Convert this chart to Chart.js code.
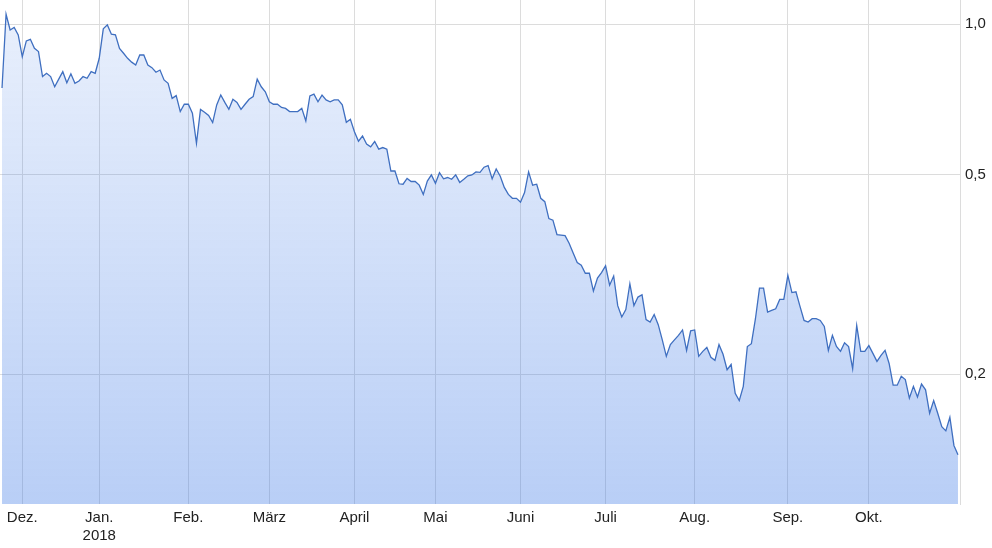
<!DOCTYPE html>
<html>
<head>
<meta charset="utf-8">
<script src="https://cdn.jsdelivr.net/npm/chart.js@4.4.1/dist/chart.umd.min.js"></script>
<style>
  html, body { margin: 0; padding: 0; background: #fff; }
  canvas { display: block; }
</style>
</head>
<body>
<canvas id="kurs" width="992" height="548"></canvas>
<script>
// daily closing prices, late Nov 2017 - end of Oct 2018 (one value per trading day)
const prices = [
  0.746, 1.047, 0.974, 0.985, 0.952, 0.861, 0.926, 0.933, 0.895, 0.882,
  0.786, 0.798, 0.786, 0.750, 0.777, 0.804, 0.764, 0.796, 0.762, 0.770,
  0.786, 0.780, 0.804, 0.798, 0.855, 0.979, 0.997, 0.955, 0.952, 0.895,
  0.875, 0.855, 0.840, 0.829, 0.868, 0.868, 0.829, 0.819, 0.802, 0.810,
  0.774, 0.762, 0.711, 0.720, 0.669, 0.692, 0.692, 0.664, 0.578, 0.676,
  0.667, 0.657, 0.636, 0.690, 0.722, 0.698, 0.676, 0.708, 0.698, 0.676,
  0.692, 0.708, 0.717, 0.777, 0.750, 0.733, 0.700, 0.692, 0.692, 0.682,
  0.679, 0.669, 0.669, 0.669, 0.679, 0.641, 0.719, 0.725, 0.700, 0.722,
  0.706, 0.700, 0.706, 0.706, 0.690, 0.637, 0.646, 0.610, 0.584, 0.598,
  0.576, 0.569, 0.583, 0.563, 0.567, 0.563, 0.509, 0.509, 0.480, 0.479,
  0.492, 0.485, 0.485, 0.477, 0.457, 0.486, 0.500, 0.481, 0.505, 0.491,
  0.494, 0.490, 0.500, 0.483, 0.490, 0.498, 0.500, 0.507, 0.506, 0.518,
  0.522, 0.491, 0.514, 0.497, 0.472, 0.457, 0.449, 0.449, 0.441, 0.461,
  0.507, 0.477, 0.479, 0.449, 0.442, 0.409, 0.406, 0.380, 0.379, 0.378,
  0.365, 0.349, 0.334, 0.330, 0.318, 0.318, 0.293, 0.311, 0.319, 0.329,
  0.301, 0.314, 0.274, 0.260, 0.269, 0.303, 0.274, 0.285, 0.288, 0.257,
  0.254, 0.263, 0.251, 0.234, 0.217, 0.229, 0.234, 0.239, 0.245, 0.223,
  0.244, 0.245, 0.217, 0.222, 0.226, 0.216, 0.213, 0.229, 0.219, 0.204,
  0.209, 0.183, 0.177, 0.189, 0.227, 0.230, 0.258, 0.297, 0.297, 0.266,
  0.268, 0.270, 0.282, 0.282, 0.315, 0.291, 0.292, 0.273, 0.256, 0.254,
  0.258, 0.258, 0.256, 0.249, 0.223, 0.239, 0.227, 0.222, 0.231, 0.227,
  0.205, 0.250, 0.222, 0.222, 0.228, 0.220, 0.212, 0.218, 0.223, 0.210,
  0.190, 0.190, 0.198, 0.195, 0.179, 0.189, 0.180, 0.191, 0.186, 0.167,
  0.177, 0.167, 0.157, 0.154, 0.164, 0.144, 0.138
];

// first trading day of each month (index into prices) and its label
const monthIdx = [5, 24, 46, 66, 87, 107, 128, 149, 171, 194, 214];
const monthLabels = ['Dez.', ['Jan.', '2018'], 'Feb.', 'März', 'April', 'Mai', 'Juni', 'Juli', 'Aug.', 'Sep.', 'Okt.'];

const yTicks = [0.2, 0.5, 1.0];

const points = prices.map((v, i) => ({ x: i, y: v }));

function areaFill(context) {
    const chart = context.chart;
    const area = chart.chartArea;
    if (!area) return 'rgba(60,120,230,0.2)';
    const g = chart.ctx.createLinearGradient(0, area.top, 0, area.bottom);
    g.addColorStop(0, 'rgba(60,120,230,0.11)');
    g.addColorStop(1, 'rgba(60,120,230,0.36)');
    return g;
}

// no extra room for half-labels at the plot edges
function noEdgePadding(scale) {
    scale.paddingTop = 0;
    scale.paddingBottom = 0;
    scale.paddingLeft = 0;
    scale.paddingRight = 0;
}

const ctx = document.getElementById('kurs');
const kursChart = new Chart(ctx, {
    type: 'line',
    data: {
        datasets: [{
            data: points,
            borderColor: '#3f6fc0',
            borderWidth: 1.3,
            backgroundColor: areaFill,
            fill: 'start',
            pointRadius: 0,
            tension: 0
        }]
    },
    options: {
        responsive: false,
        animation: false,
        devicePixelRatio: 1,
        layout: { padding: 0 },
        plugins: {
            legend: { display: false },
            tooltip: { enabled: false }
        },
        scales: {
            x: {
                type: 'linear',
                min: -0.5,
                max: prices.length - 0.5,
                afterBuildTicks: scale => {
                    scale.ticks = monthIdx.map(v => ({ value: v }));
                },
                afterFit: scale => { scale.height = 44; noEdgePadding(scale); },
                grid: { color: '#dcdcdc', drawTicks: false },
                border: { display: false },
                ticks: {
                    autoSkip: false,
                    maxRotation: 0,
                    padding: 5,
                    color: '#222',
                    font: { family: 'Liberation Sans, Arial, sans-serif', size: 15 },
                    callback: value => {
                        const k = monthIdx.indexOf(value);
                        return k >= 0 ? monthLabels[k] : '';
                    }
                }
            },
            y: {
                type: 'logarithmic',
                position: 'right',
                min: 0.11,
                max: 1.118,
                afterBuildTicks: scale => {
                    scale.ticks = yTicks.map(v => ({ value: v }));
                },
                afterFit: scale => { scale.width = 32; noEdgePadding(scale); },
                grid: { color: '#dcdcdc', drawTicks: false },
                border: { display: true, color: '#dcdcdc' },
                ticks: {
                    padding: 5,
                    color: '#222',
                    font: { family: 'Liberation Sans, Arial, sans-serif', size: 15 },
                    callback: value => value.toFixed(1).replace('.', ',')
                }
            }
        }
    }
});
</script>
</body>
</html>
